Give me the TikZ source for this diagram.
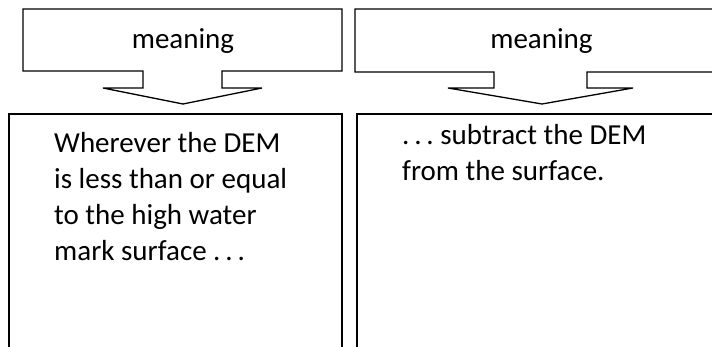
\documentclass[tikz,border=0pt]{standalone}
\usepackage{fontspec}
\setmainfont{Carlito}
\begin{document}
\begin{tikzpicture}[x=1pt,y=-1pt,
  shapeline/.style={draw=black, line width=1.3pt, line join=miter},
  lbl/.style={font=\fontsize{29}{35.7}\selectfont, inner sep=0pt, text=black},
  body/.style={font=\fontsize{29}{35.7}\selectfont, inner sep=0pt, anchor=base west, text=black}]
\useasboundingbox (0,0) rectangle (712,347);
\clip (0,0) rectangle (712,347);
% left callout
\draw[shapeline] (23,9) -- (342,9) -- (342,71) -- (222,71) -- (222,88) -- (262,88)
  -- (183,104) -- (103,88) -- (143,88) -- (143,71) -- (23,71) -- cycle;
\node[lbl, anchor=base] (m1) at (183,49) {meaning};
% right callout
\draw[shapeline] (720,9) -- (355,9) -- (355,72) -- (494,72) -- (494,88) -- (448,88)
  -- (542,104) -- (633,88) -- (587,88) -- (587,72) -- (720,72);
\node[lbl, anchor=base] (m2) at (541.5,49) {meaning};
% lower boxes
\draw[shapeline] (9,352) -- (9,114) -- (342,114) -- (342,352);
\draw[shapeline] (357,352) -- (357,114) -- (720,114);
\node[body] (t1) at (54,153) {\parbox[t]{280pt}{\raggedright\frenchspacing Wherever the DEM\\ is less than or equal\\ to the high water\\ mark surface .\,.\,.}};
\node[body] (t2) at (402,145) {\parbox[t]{300pt}{\raggedright\frenchspacing .\,.\,.\ subtract the DEM\\ from the surface.}};
\end{tikzpicture}
\end{document}
